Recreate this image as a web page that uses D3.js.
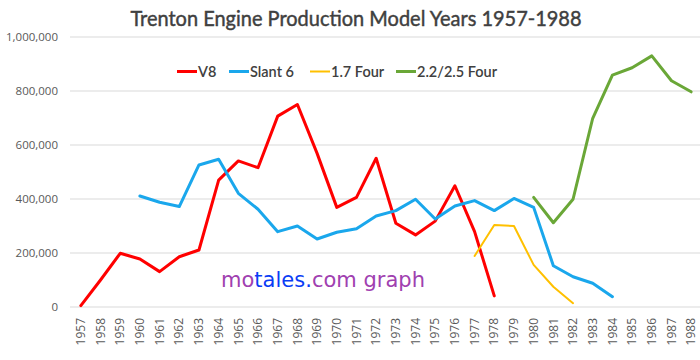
<!DOCTYPE html>
<html>
<head>
<meta charset="utf-8">
<script src="https://cdn.jsdelivr.net/npm/d3@7"></script>
<style>
  html, body { margin: 0; padding: 0; background: #fff; }
  svg { display: block; }
</style>
</head>
<body>
<svg id="chart" width="700" height="360"></svg>
<script>
const years = d3.range(1957, 1989).map(String);
const yTicks = [0, 200000, 400000, 600000, 800000, 1000000];

const v8 = [5000, 100000, 199000, 178000, 131000, 186000, 211000, 470000, 541000, 516000,
  707000, 750000, 569000, 369000, 406000, 551000, 310000, 267000, 318000, 449000,
  279000, 41000, null, null, null, null, null, null, null, null, null, null];
const slant6 = [null, null, null, 411000, 388000, 372000, 526000, 547000, 421000, 362000,
  279000, 300000, 252000, 277000, 290000, 337000, 357000, 399000, 326000, 374000,
  394000, 357000, 402000, 369000, 153000, 112000, 88000, 38000, null, null, null, null];
const four17 = [null, null, null, null, null, null, null, null, null, null,
  null, null, null, null, null, null, null, null, null, null,
  189000, 304000, 300000, 156000, 75000, 14000, null, null, null, null, null, null];
const four22 = [null, null, null, null, null, null, null, null, null, null,
  null, null, null, null, null, null, null, null, null, null,
  null, null, null, 406000, 312000, 399000, 699000, 859000, 886000, 930000, 838000, 797000];

const seriesNames = ["V8", "Slant 6", "1.7 Four", "2.2/2.5 Four"];
const seriesData = [v8, slant6, four17, four22];
const seriesColors = ["#FF0000", "#1AA7EC", "#FFC000", "#6AA737"];
const seriesWidths = [3, 3, 2, 3];

const svg = d3.select("#chart");
const x = d3.scalePoint().domain(years).range([71, 701]).padding(0.5);
const y = d3.scaleLinear().domain([0, 1000000]).range([307, 37]);

// title
svg.append("text")
  .attr("x", 356).attr("y", 26)
  .attr("text-anchor", "middle")
  .attr("font-family", "Lato, 'Open Sans', sans-serif")
  .attr("font-size", 22)
  .attr("fill", "#404040")
  .attr("stroke", "#404040")
  .attr("stroke-width", 0.45)
  .attr("textLength", 451)
  .attr("lengthAdjust", "spacingAndGlyphs")
  .text("Trenton Engine Production Model Years 1957-1988");

// gridlines
svg.append("g").selectAll("line").data(yTicks).join("line")
  .attr("x1", 70).attr("x2", 700)
  .attr("y1", d => y(d)).attr("y2", d => y(d))
  .attr("stroke", "#d9d9d9").attr("stroke-width", 1);

// y labels
const fmt = d3.format(",");
svg.append("g").selectAll("text").data(yTicks).join("text")
  .attr("x", 58).attr("y", d => y(d))
  .attr("dy", "0.35em")
  .attr("text-anchor", "end")
  .attr("font-family", "'Open Sans', sans-serif")
  .attr("font-size", 11.5)
  .attr("fill", "#595959")
  .text(d => fmt(d));

// x labels
svg.append("g").selectAll("text").data(years).join("text")
  .attr("transform", d => `translate(${x(d)},318) rotate(-90)`)
  .attr("dy", "0.35em")
  .attr("text-anchor", "end")
  .attr("font-family", "'Open Sans', sans-serif")
  .attr("font-size", 12)
  .attr("fill", "#595959")
  .text(d => d);

// watermark
const wm = svg.append("text")
  .attr("x", 221).attr("y", 287)
  .attr("font-family", "'Comic Sans MS', 'DejaVu Sans', sans-serif")
  .attr("font-size", 22)
  .attr("textLength", 204)
  .attr("lengthAdjust", "spacingAndGlyphs");
wm.append("tspan").attr("fill", "#A040B0").text("mo");
wm.append("tspan").attr("fill", "#0A3CF5").text("tales.");
wm.append("tspan").attr("fill", "#A040B0").text("com graph");

// lines
const line = d3.line()
  .defined(d => d.v !== null)
  .x(d => x(d.year))
  .y(d => y(d.v));

seriesData.forEach((arr, i) => {
  const pts = years.map((yr, j) => ({ year: yr, v: arr[j] }));
  svg.append("path")
    .datum(pts)
    .attr("fill", "none")
    .attr("stroke", seriesColors[i])
    .attr("stroke-width", seriesWidths[i])
    .attr("stroke-linejoin", "round")
    .attr("stroke-linecap", "round")
    .attr("d", line);
});

// legend
const legendX = [177, 229, 310, 396];
const legend = svg.append("g");
seriesNames.forEach((name, i) => {
  legend.append("line")
    .attr("x1", legendX[i]).attr("x2", legendX[i] + 20)
    .attr("y1", 71.5).attr("y2", 71.5)
    .attr("stroke", seriesColors[i])
    .attr("stroke-width", seriesWidths[i]);
  legend.append("text")
    .attr("x", legendX[i] + 21).attr("y", 71.5)
    .attr("dy", "0.35em")
    .attr("font-family", "Lato, 'Open Sans', sans-serif")
    .attr("font-size", 14.5)
    .attr("font-weight", 600)
    .attr("fill", "#404040")
    .text(name);
});
</script>
</body>
</html>
